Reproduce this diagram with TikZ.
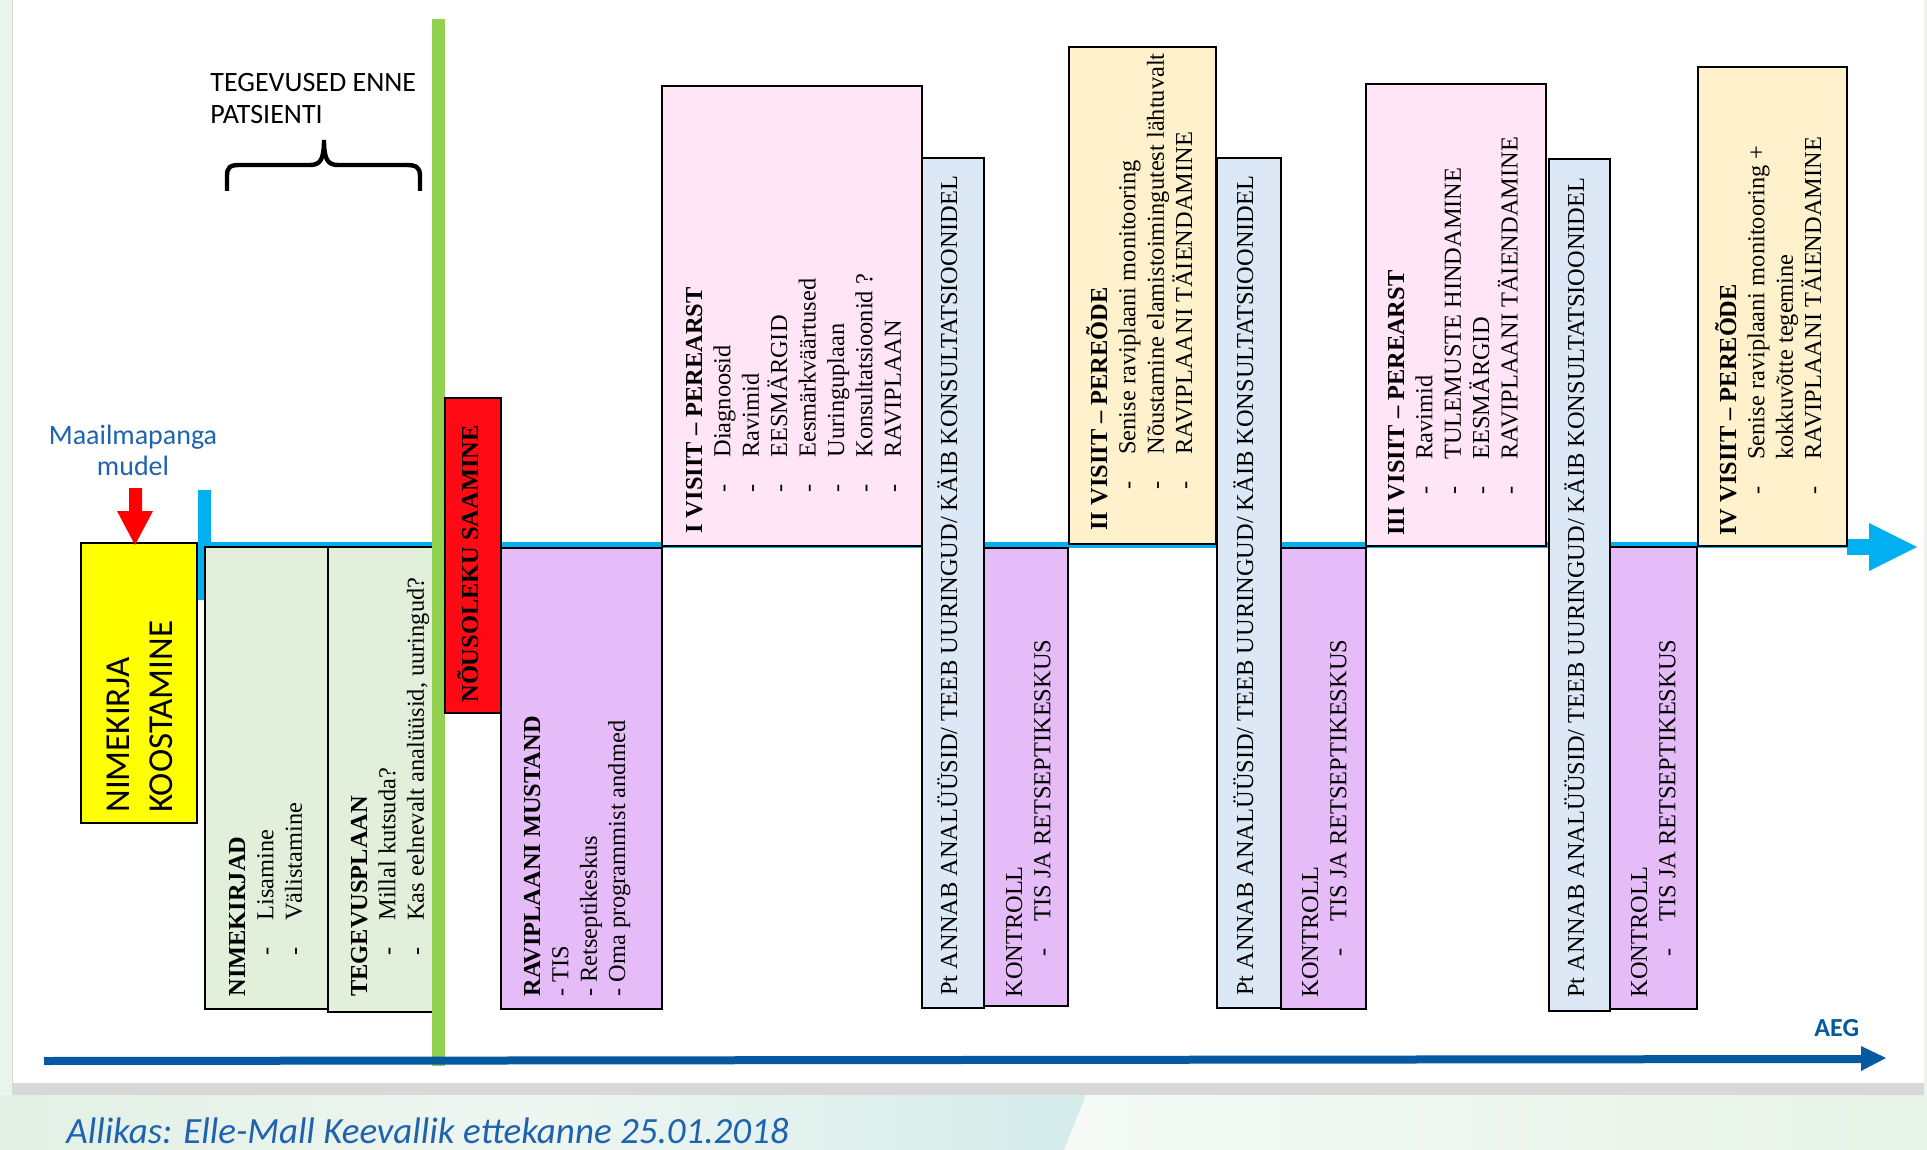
\documentclass[tikz,border=0pt]{standalone}
\usepackage{fontspec}
\setmainfont{Liberation Serif}
\newfontfamily\calfont{Carlito}
\definecolor{bgmint}{HTML}{EAF4EE}
\definecolor{shA}{HTML}{E2F0E5}
\definecolor{shB}{HTML}{D4ECEA}
\definecolor{shC}{HTML}{EEF6F1}
\definecolor{shD}{HTML}{F5FAF7}
\definecolor{shE}{HTML}{E7F3E7}
\definecolor{shadowgray}{HTML}{D8D8D8}
\definecolor{cyanline}{HTML}{00B0F0}
\definecolor{greenline}{HTML}{92D050}
\definecolor{darkblue}{HTML}{0559A0}
\definecolor{capblue}{HTML}{1F63AE}
\definecolor{yel}{HTML}{FFFF00}
\definecolor{lgreen}{HTML}{E2EFDA}
\definecolor{redbox}{HTML}{FF0A14}
\definecolor{purp}{HTML}{E5BCF8}
\definecolor{pinkbox}{HTML}{FFE5F5}
\definecolor{lyel}{HTML}{FFF1CC}
\definecolor{lblue}{HTML}{DCE8F5}
\newcommand\lns[1]{\begin{tabular}[t]{@{}l@{}}#1\end{tabular}}
\newcommand\itm[1]{\hspace*{20.5pt}\makebox[17.5pt][l]{-}#1}
\tikzset{
  boxd/.style={draw=black, line width=1pt},
  vtext/.style={rotate=90, anchor=base west, inner sep=0pt, font=\fontsize{12.2}{14.2}\selectfont},
}
\begin{document}
\begin{tikzpicture}[x=0.5pt,y=-0.5pt]
\useasboundingbox (0,0) rectangle (1927,1150);
% background
\fill[bgmint] (0,0) rectangle (1927,1150);
\shade[left color=shA, right color=shB, middle color=shC] (0,1095) rectangle (1084,1150);
\shade[left color=shD, right color=shE] (1086,1095) -- (1927,1095) -- (1927,1150) -- (1064,1150) -- cycle;
\fill[white] (12,0) rectangle (1924,1083);
\draw[black!15, line width=0.5pt] (12,0) -- (12,1083);
\fill[shadowgray] (12,1083) rectangle (1924,1095);
% cyan timeline
\fill[cyanline] (198,490) rectangle (211,600);
\draw[cyanline, line width=3pt] (205,545) -- (1852,545);
\fill[cyanline] (1847,539) rectangle (1870,555);
\fill[cyanline] (1869,523) -- (1917,547) -- (1869,571) -- cycle;
% boxes
\filldraw[boxd, fill=yel] (81,543) rectangle (197,823);
\filldraw[boxd, fill=lgreen] (205,547) rectangle (328,1009);
\filldraw[boxd, fill=lgreen] (328,547) rectangle (438,1012);
\filldraw[boxd, fill=purp] (501,548) rectangle (662,1009);
\filldraw[boxd, fill=pinkbox] (662,86) rectangle (922,546);
\filldraw[boxd, fill=lblue] (922,158) rectangle (984,1008);
\filldraw[boxd, fill=purp] (984,548) rectangle (1068,1006);
\filldraw[boxd, fill=lyel] (1069,47) rectangle (1216,544);
\filldraw[boxd, fill=lblue] (1217,158) rectangle (1281,1008);
\filldraw[boxd, fill=purp] (1281,548) rectangle (1366,1009);
\filldraw[boxd, fill=pinkbox] (1366,84) rectangle (1546,546);
\filldraw[boxd, fill=lblue] (1549,159) rectangle (1610,1011);
\filldraw[boxd, fill=purp] (1610,547) rectangle (1697,1009);
\filldraw[boxd, fill=lyel] (1698,67) rectangle (1847,546);
% green vertical line
\fill[greenline] (432,19) rectangle (445,1066);
\filldraw[boxd, fill=redbox] (445,398) rectangle (501,713);
% dark blue time axis
\draw[darkblue, line width=4pt] (44,1061) -- (1862,1059);
\fill[darkblue] (1861,1046) -- (1886,1058) -- (1861,1071) -- cycle;
% red arrow
\fill[red] (129,488) -- (142,488) -- (142,511) -- (153,511) -- (135,545) -- (117,511) -- (129,511) -- cycle;
% brace
\draw[line width=2.2pt, line cap=butt] (227,191) -- (227,176) .. controls (227,167) and (230,165) .. (240,165) -- (310,165) .. controls (320,165) and (324,160) .. (324,140) .. controls (324,160) and (328,165) .. (338,165) -- (406,165) .. controls (416,165) and (420,167) .. (420,176) -- (420,191);
% annotations
\node[anchor=base west, inner sep=0pt, font=\calfont\fontsize{14}{16}\selectfont] (tegev) at (210,92) {\lns{TEGEVUSED ENNE\\PATSIENTI}};
\node[anchor=base, inner sep=0pt, text=capblue, font=\calfont\fontsize{14}{15.5}\selectfont] (maail) at (133,444) {\begin{tabular}[t]{@{}c@{}}Maailmapanga\\mudel\end{tabular}};
\node[anchor=base west, inner sep=0pt, text=darkblue, font=\calfont\bfseries\fontsize{13}{15}\selectfont] (aeg) at (1814,1036) {AEG};
\node[anchor=base west, inner sep=0pt, text=capblue, font=\calfont\itshape\fontsize{18.5}{22}\selectfont] (allikas) at (66,1143) {Allikas: Elle-Mall Keevallik ettekanne 25.01.2018};
% box texts
\node[vtext, font=\calfont\fontsize{17.5}{21.5}\selectfont] (nimek) at (129,813) {\lns{NIMEKIRJA\\KOOSTAMINE}};
\node[vtext] (g1) at (245,997) {\lns{\textbf{NIMEKIRJAD}\\ \itm{Lisamine}\\ \itm{Välistamine}}};
\node[vtext] (g2) at (367,997) {\lns{\textbf{TEGEVUSPLAAN}\\ \itm{Millal kutsuda?}\\ \itm{Kas eelnevalt analüüsid, uuringud?}}};
\node[vtext] (nous) at (478,703) {\textbf{NÕUSOLEKU SAAMINE}};
\node[vtext] (ravm) at (540,997) {\lns{\textbf{RAVIPLAANI MUSTAND}\\ - TIS\\ - Retseptikeskus\\ - Oma programmist andmed}};
\node[vtext] (v1) at (702,534) {\lns{\textbf{I VISIIT – PEREARST}\\ \itm{Diagnoosid}\\ \itm{Ravimid}\\ \itm{EESMÄRGID}\\ \itm{Eesmärkväärtused}\\ \itm{Uuringuplaan}\\ \itm{Konsultatsioonid ?}\\ \itm{RAVIPLAAN}}};
\node[vtext] (b1) at (957,996) {Pt ANNAB ANALÜÜSID/ TEEB UURINGUD/ KÄIB KONSULTATSIOONIDEL};
\node[vtext] (k1) at (1022,998) {\lns{KONTROLL\\ \itm{TIS JA RETSEPTIKESKUS}}};
\node[vtext] (v2) at (1107,531) {\lns{\textbf{II VISIIT – PEREÕDE}\\ \itm{Senise raviplaani monitooring}\\ \itm{Nõustamine elamistoimingutest lähtuvalt}\\ \itm{RAVIPLAANI TÄIENDAMINE}}};
\node[vtext] (b2) at (1253,996) {Pt ANNAB ANALÜÜSID/ TEEB UURINGUD/ KÄIB KONSULTATSIOONIDEL};
\node[vtext] (k2) at (1318,998) {\lns{KONTROLL\\ \itm{TIS JA RETSEPTIKESKUS}}};
\node[vtext] (v3) at (1404,536) {\lns{\textbf{III VISIIT – PEREARST}\\ \itm{Ravimid}\\ \itm{TULEMUSTE HINDAMINE}\\ \itm{EESMÄRGID}\\ \itm{RAVIPLAANI TÄIENDAMINE}}};
\node[vtext] (b3) at (1584,998) {Pt ANNAB ANALÜÜSID/ TEEB UURINGUD/ KÄIB KONSULTATSIOONIDEL};
\node[vtext] (k3) at (1647,998) {\lns{KONTROLL\\ \itm{TIS JA RETSEPTIKESKUS}}};
\node[vtext] (v4) at (1736,536) {\lns{\textbf{IV VISIIT – PEREÕDE}\\ \itm{Senise raviplaani monitooring +}\\ \hspace*{38pt}kokkuvõtte tegemine\\ \itm{RAVIPLAANI TÄIENDAMINE}}};
\end{tikzpicture}
\end{document}
